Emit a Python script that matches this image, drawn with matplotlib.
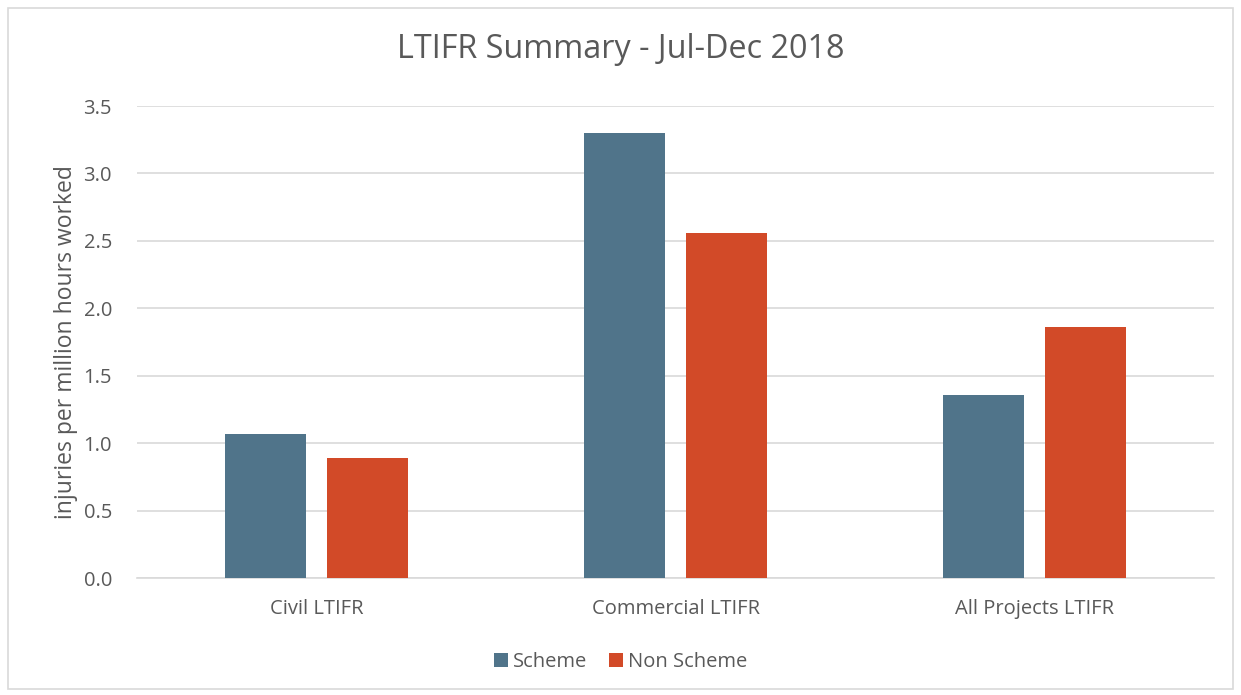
import matplotlib.pyplot as plt
import numpy as np
from matplotlib.patches import Rectangle

plt.rcParams["font.family"] = ["Open Sans", "DejaVu Sans"]

categories = ["Civil LTIFR", "Commercial LTIFR", "All Projects LTIFR"]
scheme = [1.07, 3.30, 1.36]
non_scheme = [0.89, 2.56, 1.86]

TEXT = "#595959"
GRID = "#D9D9D9"
C_SCHEME = "#50748A"
C_NON = "#D24A28"

fig = plt.figure(figsize=(12.41, 6.95), dpi=100)
ax = fig.add_axes([137 / 1241, 1 - 578 / 695, 1077 / 1241, 472 / 695])

# outer chart border
fig.patches.append(Rectangle((8 / 1241, 6 / 695), 1225 / 1241, 681 / 695,
                             transform=fig.transFigure, fill=False,
                             edgecolor=GRID, linewidth=1.2))

x = np.arange(len(categories))
w = 0.226
off = 0.142
ax.bar(x - off, scheme, w, color=C_SCHEME, label="Scheme", zorder=3)
ax.bar(x + off, non_scheme, w, color=C_NON, label="Non Scheme", zorder=3)

ax.set_xlim(-0.5, 2.5)
ax.set_ylim(0, 3.5)
ax.set_yticks(np.arange(0, 3.51, 0.5))
ax.set_yticklabels([f"{v:.1f}" for v in np.arange(0, 3.51, 0.5)])
ax.set_xticks(x)
ax.set_xticklabels(categories)
ax.yaxis.grid(True, color=GRID, linewidth=1.2, zorder=0)
ax.tick_params(axis="both", length=0, colors=TEXT, labelsize=14.5)
ax.tick_params(axis="x", pad=15)
ax.tick_params(axis="y", pad=18)
for s in ["top", "right", "left"]:
    ax.spines[s].set_visible(False)
ax.spines["bottom"].set_color(GRID)
ax.spines["bottom"].set_linewidth(1.2)

ax.set_ylabel("injuries per million hours worked", color=TEXT, fontsize=16.5, labelpad=4)

fig.text(0.5, 1 - 50 / 695, "LTIFR Summary - Jul-Dec 2018", ha="center", va="center",
         fontsize=23.3, color=TEXT)

fig.legend(loc="center", bbox_to_anchor=(0.5, 1 - 662 / 695), ncol=2, frameon=False,
           fontsize=14.5, labelcolor=TEXT, handlelength=0.7, handleheight=0.7,
           handletextpad=0.25, columnspacing=1.1)

fig.savefig("out.png", dpi=100)
